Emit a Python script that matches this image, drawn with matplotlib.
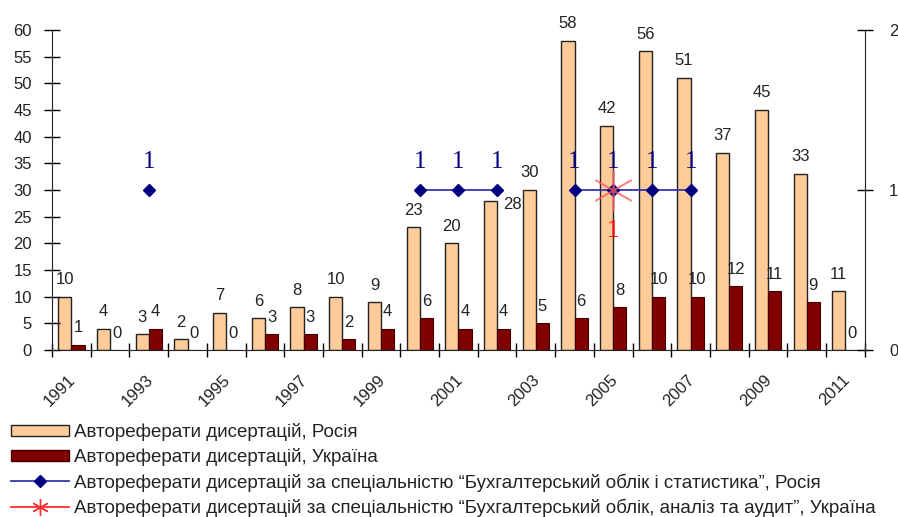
import matplotlib.pyplot as plt
import matplotlib.patches as mpatches
import matplotlib.lines as mlines
import matplotlib.transforms as mtransforms
import numpy as np

plt.rcParams['font.family'] = ['Liberation Sans', 'DejaVu Sans']

# data
years = [str(y) for y in range(1991, 2012)]
russia = [10, 4, 3, 2, 7, 6, 8, 10, 9, 23, 20, 28, 30, 58, 42, 56, 51, 37, 45, 33, 11]
ukraine = [1, 0, 4, 0, 0, 3, 3, 2, 4, 6, 4, 4, 5, 6, 8, 10, 10, 12, 11, 9, 0]
nan = np.nan
russia_spec = [nan, nan, 1, nan, nan, nan, nan, nan, nan, 1, 1, 1, nan, 1, 1, 1, 1, nan, nan, nan, nan]
ukraine_spec = [nan, nan, nan, nan, nan, nan, nan, nan, nan, nan, nan, nan, nan, nan, 1, nan, nan, nan, nan, nan, nan]

lbl_russia = 'Автореферати дисертацій, Росія'
lbl_ukraine = 'Автореферати дисертацій, Україна'
lbl_rspec = 'Автореферати дисертацій за спеціальністю \u201cБухгалтерський облік і статистика\u201d, Росія'
lbl_uspec = 'Автореферати дисертацій за спеціальністю \u201cБухгалтерський облік, аналіз та аудит\u201d, Україна'

peach = '#FFCC99'
maroon = '#800000'
navy = '#000080'
txt = '#222222'
fs = 12

fig = plt.figure(figsize=(8.98, 5.17), dpi=100)
ax = fig.add_axes([0.058, 0.323, 0.905, 0.619])
ax2 = ax.twinx()

x = np.arange(len(years))
w = 0.34
ax.bar(x - w/2, russia, w, color=peach, edgecolor='#222222', linewidth=1)
ax.bar(x + w/2, ukraine, w, color=maroon, edgecolor='#400000', linewidth=0.8)

# bar labels
for i in range(len(years)):
    dx, dy = 0, 9
    if years[i] == '2002':
        dx, dy = 16, -6
    ax.annotate(str(russia[i]), (x[i] - w/2, russia[i]), xytext=(dx, dy),
                textcoords='offset points', ha='center', va='baseline',
                fontsize=fs, color=txt)
    ax.annotate(str(ukraine[i]), (x[i] + w/2, ukraine[i]), xytext=(0, 9),
                textcoords='offset points', ha='center', va='baseline',
                fontsize=fs, color=txt)

ax.set_xlim(-0.5, len(years) - 0.5)
ax.set_ylim(0, 60)
ax.set_yticks(range(0, 61, 5))
ax.tick_params(axis='y', direction='inout', length=11, width=1, labelsize=fs,
               labelcolor=txt, pad=9)
ax.set_xticks(x[::2])
ax.set_xticklabels(years[::2], rotation=45, ha='right', va='top')
ax.set_xticks(np.arange(-0.5, len(years)), minor=True)
ax.tick_params(axis='x', which='major', length=0, labelsize=fs, labelcolor=txt, pad=16)
ax.tick_params(axis='x', which='minor', direction='inout', length=10, width=1)
shift = mtransforms.ScaledTranslation(5 / 72, 0, fig.dpi_scale_trans)
for lab in ax.get_xticklabels():
    lab.set_transform(lab.get_transform() + shift)
for s in ['top', 'right']:
    ax.spines[s].set_visible(False)
for s in ['left', 'bottom']:
    ax.spines[s].set_color('#222222')

# lines on secondary axis
ax2.plot(x, russia_spec, color='#3535B0', linewidth=1.3, marker='D',
         markersize=6, markerfacecolor=navy, markeredgecolor=navy, zorder=3)
ax2.plot(x, ukraine_spec, color='#FF3030', linewidth=1.3, linestyle='none',
         marker=(6, 2, 0), markersize=30, markeredgecolor='#FF6060',
         markeredgewidth=1.2, alpha=0.75, zorder=4)
for i in range(len(years)):
    if not np.isnan(russia_spec[i]):
        ax2.annotate('1', (x[i], russia_spec[i]), xytext=(0, 16),
                     textcoords='offset points', ha='center', va='baseline',
                     fontsize=18, color=navy, family='Liberation Serif')
    if not np.isnan(ukraine_spec[i]):
        ax2.annotate('1', (x[i], ukraine_spec[i]), xytext=(0, -34),
                     textcoords='offset points', ha='center', va='baseline',
                     fontsize=18, color='#FF0000', family='Liberation Serif')

ax2.set_ylim(0, 2)
ax2.set_yticks([0, 1, 2])
ax2.tick_params(axis='y', direction='inout', length=11, width=1, labelsize=fs,
                labelcolor=txt, pad=12)
ax2.spines['top'].set_visible(False)
ax2.spines['left'].set_visible(False)
ax2.spines['bottom'].set_visible(False)
ax2.spines['right'].set_color('#222222')

handles = [
    mpatches.Patch(facecolor=peach, edgecolor='#222222', linewidth=1, label=lbl_russia),
    mpatches.Patch(facecolor=maroon, edgecolor='#400000', label=lbl_ukraine),
    mlines.Line2D([], [], color='#3535B0', linewidth=1.3, marker='D', markersize=6,
                  markerfacecolor=navy, markeredgecolor=navy, label=lbl_rspec),
    mlines.Line2D([], [], color='#FF3030', linewidth=1.3, marker=(6, 2, 0),
                  markersize=12, markeredgecolor='#FF3030', label=lbl_uspec),
]
fig.legend(handles=handles, loc='upper left', bbox_to_anchor=(0.002, 0.2),
           frameon=False, fontsize=13.5, handlelength=3.1, handleheight=0.55,
           handletextpad=0.25, borderpad=0, labelspacing=0.38, labelcolor=txt)

fig.savefig('out.png', dpi=100)
